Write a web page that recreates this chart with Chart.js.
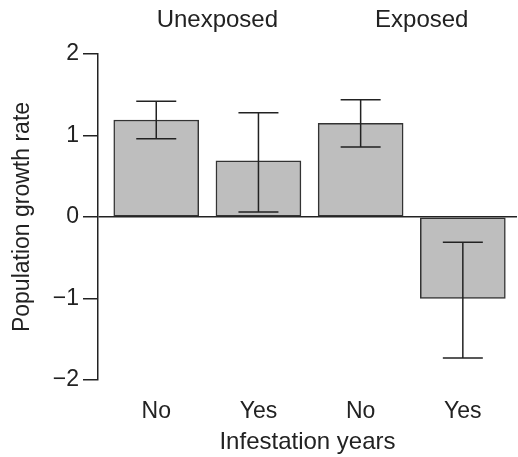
<!DOCTYPE html>
<html>
<head>
<meta charset="utf-8">
<script src="https://cdn.jsdelivr.net/npm/chart.js@4/dist/chart.umd.min.js"></script>
<style>
  html, body { margin: 0; padding: 0; background: #fff; }
  #wrap { width: 518px; height: 457px; position: relative; }
</style>
</head>
<body>
<div id="wrap"><canvas id="chart"></canvas></div>
<script>
// values
var categories = ["No", "Yes", "No", "Yes"];
var growthRate = [1.19, 0.69, 1.15, -1.00];
var errLow = [0.96, 0.06, 0.86, -1.73];
var errHigh = [1.42, 1.28, 1.44, -0.31];
var groupNames = ["Unexposed", "Exposed"];
var groupMembers = [[0, 1], [2, 3]];
var yTicks = [-2, -1, 0, 1, 2];

var ink = "#222222";
var fontFamily = "'Liberation Sans', Arial, Helvetica, sans-serif";
var fontSize = 23;
var headSize = 24;

Chart.defaults.font.family = fontFamily;
Chart.defaults.color = ink;

var barData = growthRate.map(function(v, i){
  return { x: i, y: v };
});

var errorBars = {
  id: "errorBars",
  afterDatasetsDraw: function(chart){
    var ctx = chart.ctx;
    var xs = chart.scales.x, ys = chart.scales.y;
    ctx.save();
    ctx.strokeStyle = ink;
    ctx.lineWidth = 1.5;
    for (var i = 0; i < growthRate.length; i++) {
      var px = xs.getPixelForValue(i);
      var lo = ys.getPixelForValue(errLow[i]);
      var hi = ys.getPixelForValue(errHigh[i]);
      ctx.beginPath();
      ctx.moveTo(px, lo); ctx.lineTo(px, hi);
      ctx.moveTo(px - 20, lo); ctx.lineTo(px + 20, lo);
      ctx.moveTo(px - 20, hi); ctx.lineTo(px + 20, hi);
      ctx.stroke();
    }
    // group headings above the bars
    ctx.fillStyle = ink;
    ctx.font = headSize + "px " + fontFamily;
    ctx.textAlign = "center";
    ctx.textBaseline = "alphabetic";
    groupNames.forEach(function(name, g){
      var m = groupMembers[g];
      var cx = (xs.getPixelForValue(m[0]) + xs.getPixelForValue(m[m.length - 1])) / 2 + 10;
      ctx.fillText(name, cx, 27);
    });
    ctx.restore();
  }
};

new Chart(document.getElementById("chart"), {
  type: "bar",
  data: {
    datasets: [{
      data: barData,
      backgroundColor: "#bebebe",
      borderColor: "#333333",
      borderWidth: 1.5,
      borderSkipped: false,
      barThickness: 85
    }]
  },
  plugins: [errorBars],
  options: {
    responsive: true,
    maintainAspectRatio: false,
    animation: false,
    layout: { padding: { top: 54, right: 1, left: 0, bottom: 0 } },
    plugins: {
      legend: { display: false },
      tooltip: { enabled: false }
    },
    scales: {
      x: {
        type: "linear",
        min: -0.57,
        max: 3.53,
        offset: false,
        afterBuildTicks: function(scale){
          scale.ticks = categories.map(function(c, i){ return { value: i }; });
        },
        afterFit: function(scale){ scale.height = 77; },
        grid: { display: false, drawTicks: false, offset: false },
        border: { display: false },
        ticks: {
          padding: 18,
          maxRotation: 0,
          font: { size: fontSize },
          color: ink,
          callback: function(value){ return categories[value]; }
        },
        title: {
          display: true,
          text: "Infestation years",
          font: { size: headSize },
          color: ink,
          padding: { top: 0, bottom: 0 }
        }
      },
      y: {
        min: -2,
        max: 2,
        afterBuildTicks: function(scale){
          scale.ticks = yTicks.map(function(v){ return { value: v }; });
        },
        afterFit: function(scale){ scale.width = 98; },
        border: { display: true, color: ink, width: 1.5 },
        grid: {
          drawOnChartArea: true,
          tickLength: 15,
          tickColor: ink,
          tickWidth: 1.5,
          lineWidth: 1.5,
          color: function(c){ return c.tick && c.tick.value === 0 ? ink : "rgba(0,0,0,0)"; }
        },
        ticks: {
          padding: 4,
          font: { size: fontSize },
          color: ink,
          callback: function(value){ return value < 0 ? "\u2212" + Math.abs(value) : String(value); }
        },
        title: {
          display: true,
          text: "Population growth rate",
          font: { size: fontSize },
          color: ink,
          padding: { top: 9, bottom: 0 }
        }
      }
    }
  }
});
</script>
</body>
</html>
